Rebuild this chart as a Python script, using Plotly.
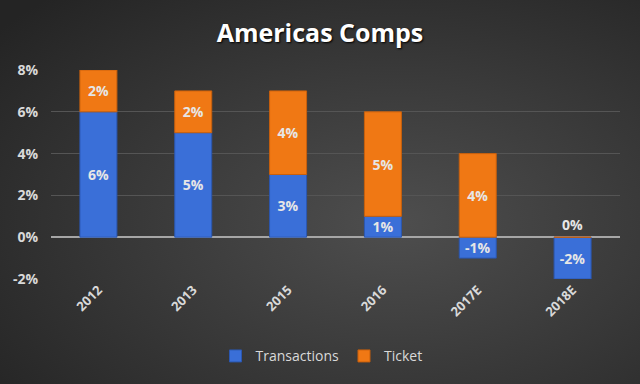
import plotly.graph_objects as go

categories = ["2012", "2013", "2015", "2016", "2017E", "2018E"]
transactions = [6, 5, 3, 1, -1, -2]
ticket = [2, 2, 4, 5, 4, 0]
y_ticks = [-2, 0, 2, 4, 6, 8]

def positions(vals):
    return ["outside" if v == 0 else "inside" for v in vals]

label_font = dict(family="Open Sans", size=14, color="#e6e6e6", weight="bold")

fig = go.Figure()
fig.add_trace(go.Bar(
    name="Transactions", x=categories, y=transactions,
    marker=dict(color="#3a6fd8", line=dict(color="#2b57b0", width=1)),
    text=[f"{v}%" for v in transactions], textposition=positions(transactions),
    insidetextanchor="middle", textfont=label_font, outsidetextfont=label_font,
    constraintext="none", cliponaxis=False,
))
fig.add_trace(go.Bar(
    name="Ticket", x=categories, y=ticket,
    marker=dict(color="#f07814", line=dict(color="#c9600c", width=1)),
    text=[f"{v}%" for v in ticket], textposition=positions(ticket),
    insidetextanchor="middle", textfont=label_font, outsidetextfont=label_font,
    constraintext="none", cliponaxis=False,
))

bg_svg = (
    "data:image/svg+xml;utf8,"
    "<svg xmlns='http://www.w3.org/2000/svg' width='640' height='384'>"
    "<defs><radialGradient id='g' cx='62%25' cy='58%25' r='80%25'>"
    "<stop offset='0%25' stop-color='%234e4e4e'/>"
    "<stop offset='100%25' stop-color='%23242424'/>"
    "</radialGradient></defs>"
    "<rect width='640' height='384' fill='url(%23g)'/></svg>"
)

L, R, T, B = 51, 20, 70, 105
PW, PH = 640 - L - R, 384 - T - B

fig.update_layout(
    width=640, height=384,
    barmode="relative", bargap=0.61,
    paper_bgcolor="#3a3a3a", plot_bgcolor="rgba(0,0,0,0)",
    margin=dict(l=L, r=R, t=T, b=B),
    title=dict(text="Americas Comps", x=0.5, xanchor="center", y=0.914, yanchor="middle",
               font=dict(family="Open Sans", size=25, color="#ffffff", weight="bold",
                         shadow="1px 1px 2px #000000")),
    images=[dict(source=bg_svg, xref="paper", yref="paper",
                 x=-L / PW, y=1 + T / PH, sizex=640 / PW, sizey=384 / PH,
                 xanchor="left", yanchor="top", sizing="stretch", layer="below")],
    showlegend=True,
    legend=dict(orientation="h", x=0.5 - 14 / PW, xanchor="center", y=-0.37, yanchor="middle",
                font=dict(family="Open Sans", size=14, color="#d9d9d9"),
                itemwidth=30, tracegroupgap=0, bgcolor="rgba(0,0,0,0)"),
    xaxis=dict(tickangle=-45, tickfont=dict(family="Open Sans", size=13, color="#d9d9d9", weight="bold"),
               showgrid=False, showline=False, ticks=""),
    yaxis=dict(range=[-2, 8], tickvals=y_ticks, ticktext=[f"{v}%" for v in y_ticks],
               tickfont=dict(family="Open Sans", size=14, color="#d9d9d9", weight="bold"),
               ticklabelstandoff=12,
               gridcolor="#555555", gridwidth=1, zeroline=True, zerolinecolor="#a6a6a6",
               zerolinewidth=2, showline=False, ticks=""),
)

fig.write_html("out.html", config={"displayModeBar": False},
               post_script="document.body.style.margin='0';")
